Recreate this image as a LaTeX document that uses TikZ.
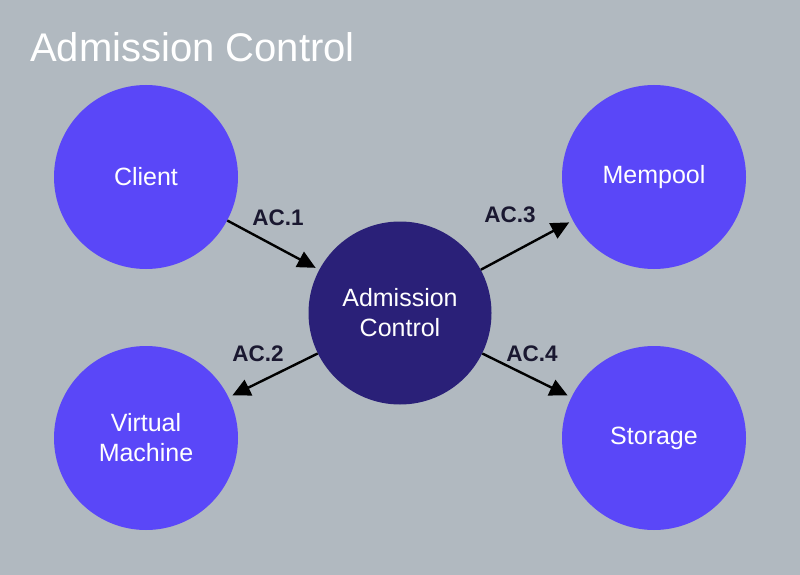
\documentclass[tikz,border=0pt]{standalone}
\usepackage{fontspec}
\setmainfont{Liberation Sans}
\usetikzlibrary{arrows.meta}
\definecolor{bgc}{HTML}{B1B9C0}
\definecolor{lightc}{HTML}{5A47F8}
\definecolor{darkc}{HTML}{2A2078}
\definecolor{labc}{HTML}{1A1830}
\begin{document}
\begin{tikzpicture}[x=1pt,y=-1pt,
  comp/.style={circle,fill=lightc,minimum size=184pt,inner sep=0pt,text=white,align=center,
    font=\fontsize{25}{30}\selectfont},
  hub/.style={comp,fill=darkc,minimum size=183pt},
  flow/.style={line width=2.4pt,-{Triangle[length=18pt,width=17pt]},draw=black,shorten >=4pt},
  lab/.style={text=labc,font=\bfseries\fontsize{22.5}{24}\selectfont,inner sep=0pt}]
\fill[bgc] (0,0) rectangle (800,575);
\useasboundingbox (0,0) rectangle (800,575);
\node[anchor=base west,text=white,font=\fontsize{40}{44}\selectfont,inner sep=0pt] (title) at (30,62) {Admission Control};
\node[comp] (client) at (146,177) {Client};
\node[comp] (mempool) at (654,177) {Mempool};
\node[comp] (vm) at (146,438) {Virtual\\Machine};
\node[comp] (storage) at (654,438) {Storage};
\node[hub] (ac) at (400,313) {Admission\\Control};
\draw[flow] (client) -- (ac);
\draw[flow] (ac) -- (mempool);
\draw[flow] (ac) -- (vm);
\draw[flow] (ac) -- (storage);
\node[lab] (l1) at (278,218) {AC.1};
\node[lab] (l3) at (510,215) {AC.3};
\node[lab] (l2) at (258,354) {AC.2};
\node[lab] (l4) at (532,354) {AC.4};
\end{tikzpicture}
\end{document}
